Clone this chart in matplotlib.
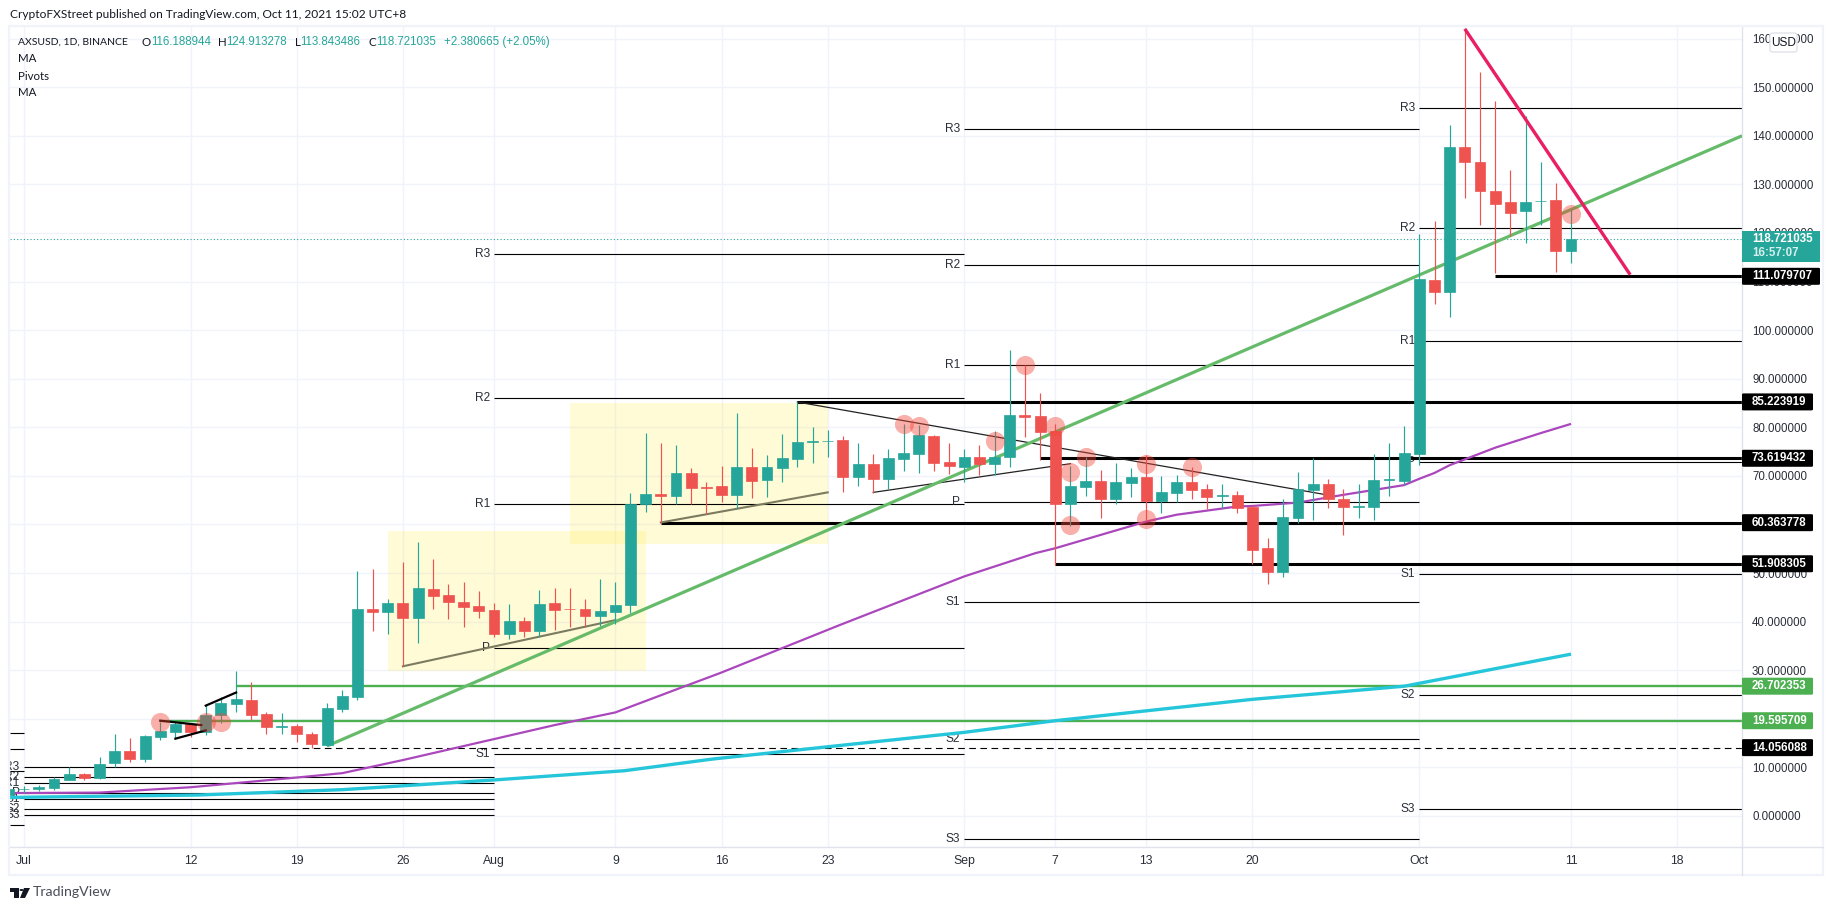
import numpy as np
import matplotlib
matplotlib.use("Agg")
import matplotlib.pyplot as plt
from matplotlib.patches import Rectangle, FancyBboxPatch, Circle, Polygon
from matplotlib.lines import Line2D

NUM_FONT = ['Liberation Sans', 'DejaVu Sans']
TXT_FONT = ['Lato', 'DejaVu Sans']
plt.rcParams['font.family'] = NUM_FONT

# ---------- data: day numbers count from 1 July 2021 = 0 ----------
FIRST_DAY = -1
OPEN = [4.3,
 5.5,5.5,5.8,7.4,8.6,7.9,10.8,13.4,11.8,16.3,17.3,18.9,17.2,20.7,23.1,23.9,20.9,18.4,18.5,16.9,14.6,22.1,24.5,42.6,42.0,43.8,40.8,46.7,45.5,44.1,43.2,
 42.4,37.5,40.1,38.1,43.8,42.6,42.6,41.2,42.0,43.4,64.2,66.3,65.9,70.6,67.7,67.9,66.1,71.8,69.2,71.6,73.5,77.0,77.1,77.4,69.8,72.5,69.4,73.5,74.5,78.2,72.9,
 71.8,73.9,72.5,73.9,82.5,82.3,79.3,64.2,67.7,69.0,65.3,68.6,69.8,64.8,66.5,68.8,67.3,65.9,66.1,63.6,55.2,50.2,61.3,67.1,68.3,65.3,63.6,63.6,69.1,69.0,
 74.5,110.3,107.9,137.7,134.6,128.7,126.4,124.5,126.5,126.8,116.188944]
HIGH = [6.0,
 6.2,6.4,8.0,10.0,8.8,12.1,16.9,16.0,16.7,19.4,19.4,19.1,22.9,24.4,29.8,27.5,21.4,21.2,18.9,17.3,23.3,25.9,50.4,50.8,44.7,52.3,56.4,52.9,47.8,48.2,46.3,
 43.8,43.6,41.0,46.5,46.9,46.9,44.7,48.8,48.2,66.4,78.8,76.8,76.4,71.6,68.8,72.1,83.0,75.8,74.3,78.6,85.2,80.1,79.5,78.2,76.8,74.5,75.5,80.7,80.5,78.4,76.8,
 75.5,76.4,79.3,96.0,92.8,87.1,80.7,72.1,73.9,71.2,72.7,71.6,74.3,70.0,70.2,71.8,68.3,68.3,66.9,64.0,57.2,65.3,70.8,73.7,69.4,67.3,68.3,74.5,76.8,80.3,
 119.8,122.5,142.2,162.1,153.2,147.2,133.0,144.0,134.6,130.3,124.913278]
LOW = [4.0,
 4.7,5.2,5.4,7.3,7.4,7.7,10.1,11.2,11.0,15.6,15.8,16.2,16.7,19.2,21.3,19.8,16.9,16.9,15.2,13.9,14.4,21.4,23.9,38.1,37.5,30.8,35.6,42.6,40.6,38.9,40.8,
 36.8,36.4,36.8,36.8,38.3,38.9,38.9,39.1,39.5,41.7,62.6,60.2,64.2,64.2,62.2,64.6,63.4,65.5,65.7,68.8,71.8,72.7,73.9,66.7,67.9,66.5,67.3,71.0,70.6,71.0,70.4,
 68.8,70.2,70.2,71.8,78.0,73.3,51.7,59.7,65.9,61.3,64.2,65.7,60.9,62.4,64.6,65.3,63.2,63.4,62.4,51.9,47.8,49.2,60.3,60.9,63.4,57.8,61.3,60.9,65.9,68.1,
 72.3,105.4,102.7,127.2,121.7,111.8,119.4,118.0,121.7,112.0,113.843486]
CLOSE = [5.5,
 5.6,6.0,7.5,8.6,7.9,10.7,13.4,11.8,16.5,17.5,18.9,17.3,20.8,23.3,24.1,20.7,18.3,18.5,16.9,14.8,22.2,24.7,42.6,42.0,43.8,40.8,46.9,45.3,44.1,43.0,42.2,
 37.5,40.1,38.1,43.6,42.4,42.5,41.2,42.2,43.4,64.2,66.3,65.9,70.6,67.5,67.6,66.1,71.8,69.0,71.8,73.7,77.0,77.1,77.2,69.8,72.5,69.4,73.7,74.7,78.4,72.7,72.1,
 73.9,72.5,73.9,82.5,82.2,79.0,64.2,67.9,69.0,65.3,68.8,69.8,64.8,66.7,68.8,67.1,65.7,66.0,63.4,54.8,50.2,61.6,67.3,68.3,65.3,63.6,63.7,69.2,69.3,74.7,
 110.5,107.9,137.7,134.6,128.7,126.0,124.1,126.4,126.5,116.3,118.721035]

MA_FAST_DAY = [-1,5,11,18,21,25,31.4,35,39,43.5,45.9,53.8,62,66.7,68,74,76,80,81,84,87,91,92,93,94,97,100,102]
MA_FAST_VAL = [4.7,4.8,5.9,7.9,8.8,11.5,16.1,18.7,21.3,26.6,29.4,39.3,49.3,54.1,55.1,60.6,62.0,63.7,63.8,64.5,66.1,68.1,69.4,70.6,72.2,75.8,78.8,80.7]
MA_SLOW_DAY = [-1,11.5,21,31,39.6,45.4,53.8,62,68,81,87,91,92,93,102]
MA_SLOW_VAL = [3.8,4.3,5.4,7.4,9.3,11.7,14.5,17.2,19.6,24.0,25.6,26.7,27.3,27.9,33.3]

PIVOT_NAMES = ['R3','R2','R1','P','S1','S2','S3']
PIVOT_JUL = [10.0,8.0,6.7,4.7,3.4,1.4,0.1]
PIVOT_AUG = [115.7,86.0,64.2,34.5,12.7]
PIVOT_SEP = [141.4,113.4,92.8,64.6,44.0,15.8,-4.8]
PIVOT_OCT = [145.7,121.0,97.7,72.8,49.7,24.8,1.5]
PIVOT_JUN = [17.0,13.7,9.2,3.6,-1.9]
PIVOT_STARTS = [0,31,62,92]

LEVEL_BLACK = [85.223919,73.619432,60.363778,51.908305,111.079707]
LEVEL_BLACK_START = [51,67,42,68,97]
LEVEL_GREEN = [26.702353,19.595709]
LEVEL_GREEN_START = [14,9]
LEVEL_DASH = 14.056088
LEVEL_DASH_START = 11
LAST_PRICE = 118.721035

TREND_GREEN = ((20,14.4),(113.27,140.0))
TREND_PINK = ((95,162.0),(105.9,111.4))
THIN_LINES = [((51,85.2),(85.7,66.2)),((56,66.6),(69,72.5))]
SOFT_LINES = [((25,30.8),(39,40.3)),((42,60.4),(53,66.6))]
FLAG_LINES = [((9,19.6),(11.7,18.7)),((10,15.9),(12,17.6)),((12,22.7),(14,25.4))]
BOX_1 = (24,41,29.8,58.6)
BOX_2 = (36,53,56.0,85.0)
CIRCLE_DAY = [9,12,13,58,59,64,66,68,69,70,69,74,74,77,102]
CIRCLE_VAL = [19.4,19.4,19.3,80.6,80.3,77.1,92.8,80.3,70.7,73.8,59.8,72.4,61.1,71.8,123.9]

TICK_DAYS = [0,11,18,25,31,39,46,53,62,68,74,81,92,102,109]
TICK_NAMES = ['Jul','12','19','26','Aug','9','16','23','Sep','7','13','20','Oct','11','18']
PRICE_TICKS = list(range(0,170,10))

# ---------- layout ----------
W, H = 1834, 910
GREEN, RED = '#26a69a', '#ef5350'
INK = '#131722'
fig = plt.figure(figsize=(W/100, H/100), dpi=100, facecolor='white')
L, R, T, B = 10, 1742, 27, 847
ax = fig.add_axes([L/W, 1-B/H, (R-L)/W, (B-T)/H])
ax.set_xlim(-0.903, 113.27)
ax.set_ylim(-6.4, 162.4)
XR = 113.27
XL = -0.903
ax.set_xticks(TICK_DAYS)
ax.set_xticklabels(TICK_NAMES)
ax.yaxis.tick_right()
ax.set_yticks(PRICE_TICKS)
ax.set_yticklabels([f'{v:.6f}' for v in PRICE_TICKS])
ax.tick_params(axis='both', length=0, labelsize=8.3, labelcolor='#2a2e39')
ax.tick_params(axis='y', pad=7.2)
ax.tick_params(axis='x', pad=5.5, labelsize=8.8)
ax.grid(True, color='#f0f3fa', lw=1)
ax.set_axisbelow(True)
for s in ax.spines.values():
    s.set_color('#e0e3eb')
    s.set_linewidth(1)
ax.spines['top'].set_visible(False)
ax.spines['left'].set_visible(False)

# boxes
for x0, x1, y0, y1 in (BOX_1, BOX_2):
    ax.add_patch(Rectangle((x0, y0), x1-x0, y1-y0, fc='#ffeb3b', ec='none', alpha=0.2, zorder=1))

# pivots
def seg(x0, x1, y, **k):
    ax.plot([x0, x1], [y, y], solid_capstyle='butt', **k)

for v in PIVOT_JUN:
    seg(XL, 0, v, color='black', lw=0.8, zorder=1.5)
for start, end, levels in zip(PIVOT_STARTS, [31,62,92,XR], [PIVOT_JUL,PIVOT_AUG,PIVOT_SEP,PIVOT_OCT]):
    for name, v in zip(PIVOT_NAMES, levels):
        seg(start, end, v, color='black', lw=0.8, zorder=1.5)
        ax.annotate(name, xy=(start, v), xytext=(-3, 0), textcoords='offset points', ha='right', va='center',
                    fontsize=8.6, color='#2a2e39', zorder=1.6, clip_on=True, annotation_clip=False)

# user levels
for v, s in zip(LEVEL_BLACK, LEVEL_BLACK_START):
    seg(s, XR, v, color='black', lw=2.2, zorder=2)
for v, s in zip(LEVEL_GREEN, LEVEL_GREEN_START):
    seg(s, XR, v, color='#4caf50', lw=1.7, zorder=2)
ax.plot([LEVEL_DASH_START, XR], [LEVEL_DASH]*2, color='black', lw=0.8, dashes=(6, 4), zorder=2)
ax.plot([XL, XR], [LAST_PRICE]*2, color=GREEN, lw=0.8, ls=(0, (1, 2)), zorder=2)

# moving averages
ax.plot(MA_SLOW_DAY, MA_SLOW_VAL, color='#26c6da', lw=2.4, zorder=2.2, solid_capstyle='butt')
ax.plot(MA_FAST_DAY, MA_FAST_VAL, color='#ab47bc', lw=1.6, zorder=2.3, solid_capstyle='butt')

# candles
days = np.arange(len(OPEN)) + FIRST_DAY
o, h, l, c = map(np.array, (OPEN, HIGH, LOW, CLOSE))
colors = np.where(c >= o, GREEN, RED)
ax.vlines(days, l, h, colors=colors, lw=0.85, zorder=3)
ax.bar(days, np.abs(c-o), bottom=np.minimum(o, c), width=0.72, color=colors, edgecolor=colors, lw=0.5, zorder=3.1)

# drawings
ax.plot(*zip(*TREND_GREEN), color='#66bb6a', lw=2.3, zorder=2.6, solid_capstyle='butt')
for a, b in THIN_LINES:
    ax.plot(*zip(a, b), color='#222222', lw=0.9, zorder=2.5)
for a, b in SOFT_LINES:
    ax.plot(*zip(a, b), color='#7b7b60', lw=1.5, zorder=2.5)
for a, b in FLAG_LINES:
    ax.plot(*zip(a, b), color='black', lw=1.6, zorder=3.3)
ax.plot(*zip(*TREND_PINK), color='#e91e63', lw=2.4, zorder=3.4, solid_capstyle='butt')
ax.scatter(CIRCLE_DAY, CIRCLE_VAL, s=190, color='#f44336', alpha=0.42, linewidths=0, zorder=3.5)

# ---------- price-axis tags, drawn on the figure above the axis labels ----------
def py(p):
    return ax.transData.transform((0, p))[1]

def tag(p, text, color, right=1813):
    yc = py(p)
    hh = 8.5
    fig.add_artist(FancyBboxPatch((R/W, (yc-hh)/H), (right-R)/W, 2*hh/H, boxstyle='round,pad=0,rounding_size=0.001',
                                  transform=fig.transFigure, fc=color, ec='none', zorder=5))
    fig.text(1752/W, yc/H, text, color='white', fontsize=8.3, va='center', ha='left', zorder=6, fontweight='bold')

for v in LEVEL_BLACK[:4]:
    tag(v, f'{v:.6f}', 'black')
tag(LEVEL_DASH, f'{LEVEL_DASH:.6f}', 'black')
for v in LEVEL_GREEN:
    tag(v, f'{v:.6f}', '#4caf50')
tag(LEVEL_BLACK[4], f'{LEVEL_BLACK[4]:.6f}', 'black', right=1820)
fig.add_artist(Rectangle((R/W, 1-262/H), (1820-R)/W, 31/H, transform=fig.transFigure, fc=GREEN, ec='none', zorder=5))
fig.text(1752/W, 1-239.5/H, f'{LAST_PRICE:.6f}', color='white', fontsize=8.3, va='center', ha='left', zorder=6, fontweight='bold')
fig.text(1752/W, 1-253.5/H, '16:57:07', color='#d6f0ed', fontsize=8.3, va='center', ha='left', zorder=6, fontweight='bold')

# USD button
fig.add_artist(FancyBboxPatch((1770/W, 1-52/H), 27/W, 19/H, boxstyle='round,pad=0,rounding_size=0.002',
                              transform=fig.transFigure, fc='white', ec='#e0e3eb', lw=1, zorder=5))
fig.text(1783.5/W, 1-42.5/H, 'USD', color=INK, fontsize=8.6, va='center', ha='center', zorder=6)

# outer frame
frame = '#f0f3fa'
fig.add_artist(Rectangle((9/W, 1-875/H), (1823-9)/W, (875-26)/H, transform=fig.transFigure, fc='none', ec=frame, lw=1.6, zorder=4))
fig.add_artist(Line2D([R/W, 1823/W], [1-B/H]*2, color='#e0e3eb', lw=1, zorder=4))
fig.add_artist(Line2D([R/W, R/W], [1-875/H, 1-B/H], color='#e0e3eb', lw=1, zorder=4))

# header & legend
fig.text(10/W, 1-15/H, 'CryptoFXStreet published on TradingView.com, Oct 11, 2021 15:02 UTC+8', color=INK, fontsize=8.6, va='center', family=TXT_FONT)
legend_y = 1-42/H
for x, txt, col, fam, size in [(18,'AXSUSD, 1D, BINANCE',INK,TXT_FONT,7.5),(141.5,'O',INK,TXT_FONT,8.3),(151,'116.188944',GREEN,NUM_FONT,8.3),(218,'H',INK,TXT_FONT,8.3),(226,'124.913278',GREEN,NUM_FONT,8.3),
                    (295,'L',INK,TXT_FONT,8.3),(300.5,'113.843486',GREEN,NUM_FONT,8.3),(368.5,'C',INK,TXT_FONT,8.3),(376.4,'118.721035',GREEN,NUM_FONT,8.3),(443.7,'+2.380665 (+2.05%)',GREEN,NUM_FONT,8.3)]:
    fig.text(x/W, legend_y, txt, color=col, fontsize=size, va='center', family=fam)
for y, txt in [(59,'MA'),(76,'Pivots'),(93,'MA')]:
    fig.text(18/W, 1-y/H, txt, color=INK, fontsize=8.3, va='center', family=TXT_FONT)

# TradingView mark
ink = '#131722'
def px(pts):
    return [(x/W, 1-y/H) for x, y in pts]
fig.add_artist(Polygon(px([(10,888),(19,888),(19,898),(14,898),(14,892),(10,892)]), closed=True, transform=fig.transFigure, fc=ink, ec='none'))
fig.add_artist(Circle((21.5/W, 1-890/H), 0.0011, transform=fig.transFigure, fc=ink, ec='none'))
fig.add_artist(Polygon(px([(24,888),(30,888),(25,898),(20,898)]), closed=True, transform=fig.transFigure, fc=ink, ec='none'))
fig.text(33/W, 1-892/H, 'TradingView', color='#4a4e59', fontsize=10.2, va='center', family=TXT_FONT)

fig.savefig('out.png', dpi=100, facecolor='white')
